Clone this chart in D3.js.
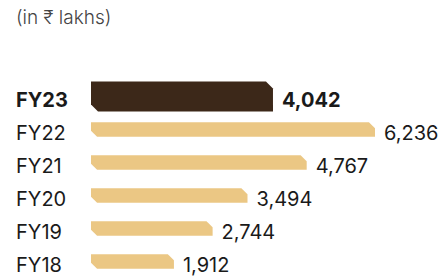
<!DOCTYPE html>
<html>
<head>
<meta charset="utf-8">
<script src="https://cdn.jsdelivr.net/npm/d3@7"></script>
<style>
  html, body { margin: 0; padding: 0; background: #fff; }
  svg { display: block; font-family: Inter, "Noto Sans", sans-serif; }
</style>
</head>
<body>
<div id="chart"></div>
<script>
// data
const years = ["FY23", "FY22", "FY21", "FY20", "FY19", "FY18"];
const values = [4042, 6236, 4767, 3494, 2744, 1912];
const highlight = ["FY23"];

const width = 441, height = 276;
const barStart = 91;

const svg = d3.select("#chart").append("svg")
  .attr("width", width)
  .attr("height", height);

// unit caption
svg.append("text")
  .attr("x", 16)
  .attr("y", 24)
  .attr("font-size", "19px")
  .attr("font-weight", 300)
  .attr("fill", "#444")
  .text("(in \u20B9 lakhs)");

const x = d3.scaleLinear().domain([0, 6236]).range([85, 375]);
const y = d3.scalePoint().domain(years).range([96.5, 261.5]);

const data = years.map((yr, i) => ({
  year: yr,
  value: values[i],
  hi: highlight.includes(yr)
}));

// bar with cut top-right and bottom-left corners
function barPath(x0, x1, cy, h) {
  const c = Math.min(7, h * 0.42);
  const t = cy - h / 2, b = cy + h / 2;
  return "M" + x0 + "," + t +
    "L" + (x1 - c) + "," + t +
    "L" + x1 + "," + (t + c) +
    "L" + x1 + "," + b +
    "L" + (x0 + c) + "," + b +
    "L" + x0 + "," + (b - c) + "Z";
}

const rows = svg.selectAll(".row")
  .data(data)
  .enter()
  .append("g")
  .attr("class", "row");

rows.append("path")
  .attr("d", d => barPath(barStart, x(d.value), y(d.year), d.hi ? 30 : 14.5))
  .attr("fill", d => d.hi ? "#3c2819" : "#ebc784");

rows.append("text")
  .attr("x", 16)
  .attr("y", d => y(d.year) + 10)
  .attr("font-size", "20px")
  .attr("font-weight", d => d.hi ? 700 : 400)
  .attr("fill", "#1a1a1a")
  .text(d => d.year);

rows.append("text")
  .attr("x", d => x(d.value) + 9)
  .attr("y", d => y(d.year) + 10)
  .attr("font-size", "20px")
  .attr("font-weight", d => d.hi ? 700 : 400)
  .attr("fill", "#1a1a1a")
  .text(d => d3.format(",")(d.value));
</script>
</body>
</html>
